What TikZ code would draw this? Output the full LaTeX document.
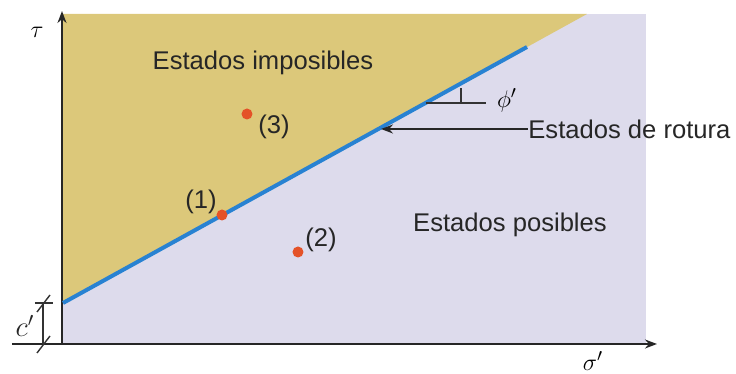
\documentclass[tikz,border=0pt]{standalone}
\usepackage{fontspec}
\setmainfont{Liberation Sans}
\usetikzlibrary{arrows.meta}
\definecolor{khaki}{RGB}{220,200,122}
\definecolor{lavender}{RGB}{221,219,236}
\definecolor{failblue}{RGB}{40,130,210}
\definecolor{dotred}{RGB}{228,82,40}

\begin{document}
\begin{tikzpicture}[x=0.5pt,y=-0.5pt,>={Stealth[length=6pt,width=4.5pt]}]
  \useasboundingbox (0,0) rectangle (736,374);
  \tikzset{lbl/.style={font=\fontsize{12.8}{15}\selectfont,text=black!85,inner sep=0pt},
    dot/.style={circle,fill=dotred,inner sep=0pt,minimum size=5.5pt},
    aux/.style={draw=black!80,line width=0.7pt}}
  % regions
  \fill[lavender] (63,14) rectangle (646,344);
  \fill[khaki] (63,14) -- (587,14) -- (63,303) -- cycle;
  % axes
  \coordinate (O) at (62,344);
  \coordinate (ytop) at (62,11);
  \coordinate (xl) at (12,344);
  \coordinate (xr) at (657,344);
  \draw[->, black!85, line width=1pt] (O) -- (ytop);
  \draw[->, black!85, line width=0.9pt] (xl) -- (xr);
  \node[font=\fontsize{13}{15}\selectfont] (tau) at (37,32) {$\tau$};
  \node[font=\fontsize{13}{15}\selectfont] (sig) at (593,361) {$\sigma'$};
  % failure line
  \coordinate (c0) at (63,303);
  \coordinate (c1) at (527,47);
  \draw[failblue, line width=2pt] (c0) -- (c1);
  % c' dimension
  \coordinate (ct) at (43,303);
  \coordinate (cb) at (43,344);
  \coordinate (ctl) at (35,303);
  \coordinate (ctr) at (53,303);
  \draw[aux] (ct) -- (cb);
  \draw[aux] (ctl) -- (ctr);
  \draw[aux] ([shift={(-6,9)}]ct) -- ([shift={(7,-8)}]ct);
  \draw[aux] ([shift={(-6,9)}]cb) -- ([shift={(7,-8)}]cb);
  \node[lbl,font=\fontsize{14}{15}\selectfont] (cl) at (25,326) {$c'$};
  % angle phi'
  \coordinate (f0) at (426,103);
  \coordinate (f1) at (486,103);
  \coordinate (fv) at (461,103);
  \coordinate (fu) at (461,88);
  \draw[aux] (f0) -- (f1);
  \draw[aux] (fv) -- (fu);
  \node[font=\fontsize{13}{15}\selectfont,anchor=west] (phi) at (490,100) {$\phi'$};
  % rupture arrow
  \node[lbl,anchor=west] (rot) at (528,129) {Estados de rotura};
  \coordinate (r) at (381,129);
  \draw[->, black!85, line width=0.8pt] (rot.west) -- (r);
  % zones
  \node[lbl] (imp) at (263,63) {Estados imposibles};
  \node[lbl] (pos) at (510,225) {Estados posibles};
  % states
  \node[dot] (p1) at (222,215) {};
  \node[dot] (p2) at (298,252) {};
  \node[dot] (p3) at (247,114) {};
  \node[lbl] (l1) at (201,202) {(1)};
  \node[lbl] (l2) at (321,240) {(2)};
  \node[lbl] (l3) at (274,127) {(3)};
\end{tikzpicture}
\end{document}
